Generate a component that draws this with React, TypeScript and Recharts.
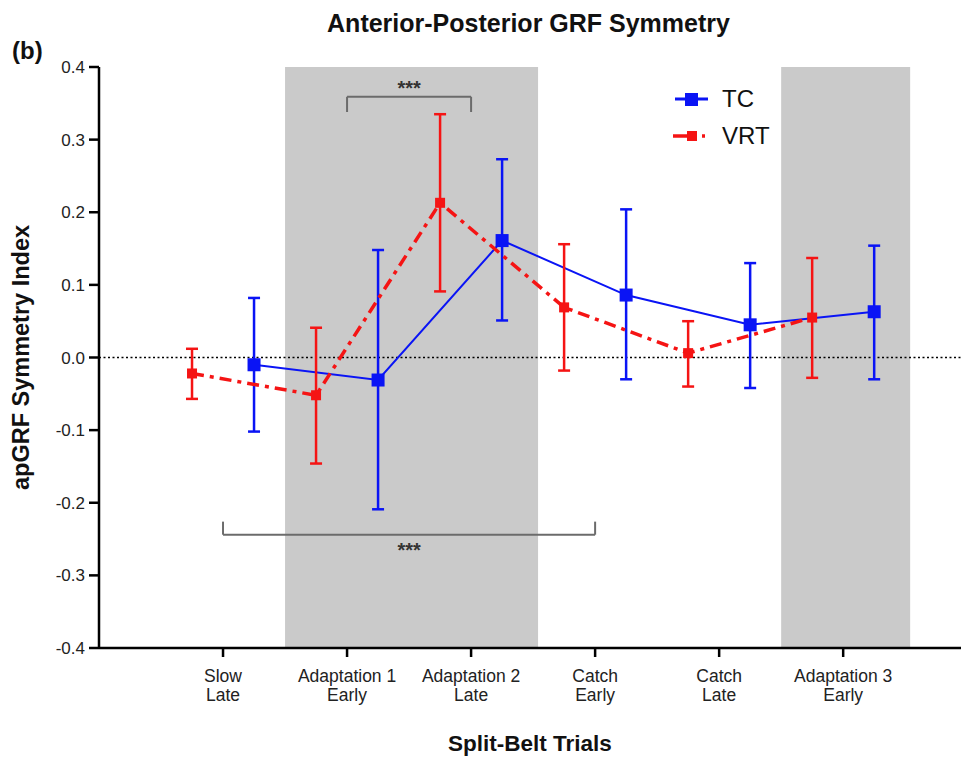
import React from "react";
import { LineChart, Line, XAxis, YAxis, ErrorBar, ReferenceArea, ReferenceLine } from "recharts";

// split-belt trial categories (two-line tick labels)
const trialTop = ["Slow", "Adaptation 1", "Adaptation 2", "Catch", "Catch", "Adaptation 3"];
const trialBottom = ["Late", "Early", "Late", "Early", "Late", "Early"];

// TC group: mean and error bar ends
const tcMean = [-0.010, -0.031, 0.161, 0.086, 0.045, 0.063];
const tcLow = [-0.102, -0.209, 0.051, -0.030, -0.042, -0.030];
const tcHigh = [0.082, 0.148, 0.273, 0.204, 0.130, 0.154];

// VRT group
const vrtMean = [-0.022, -0.052, 0.213, 0.069, 0.006, 0.055];
const vrtLow = [-0.057, -0.146, 0.091, -0.018, -0.040, -0.028];
const vrtHigh = [0.012, 0.041, 0.335, 0.156, 0.050, 0.137];

const yTicks = [-0.4, -0.3, -0.2, -0.1, 0, 0.1, 0.2, 0.3, 0.4];
const shaded = [[0.5, 2.54], [4.5, 5.54]];

const FONT = "'Liberation Sans', Arial, sans-serif";
const BLUE = "#0a14f5";
const RED = "#f51414";
const BRACKET = "#6b6b6b";

const build = (mean: number[], low: number[], high: number[], shift: number) =>
  mean.map((m, i) => ({ x: i + shift, y: m, err: [m - low[i], high[i] - m] }));

const tcData = build(tcMean, tcLow, tcHigh, 0.25);
const vrtData = build(vrtMean, vrtLow, vrtHigh, -0.25);

const square = (size: number, color: string) => (props: any) => {
  const { cx, cy, index } = props;
  if (cx == null || cy == null) return <g key={index} />;
  return <rect key={index} x={cx - size / 2} y={cy - size / 2} width={size} height={size} fill={color} />;
};

const TrialTick = (props: any) => {
  const { x, y, payload } = props;
  const i = payload.value;
  return (
    <g transform={`translate(${x},${y})`}>
      <text textAnchor="middle" fontFamily={FONT} fontSize={17.5} fill="#222">
        <tspan x={0} dy={23}>{trialTop[i]}</tspan>
        <tspan x={0} dy={19}>{trialBottom[i]}</tspan>
      </text>
    </g>
  );
};

const YTick = (props: any) => {
  const { x, y, payload } = props;
  return (
    <text x={x - 2} y={y + 6} textAnchor="end" fontFamily={FONT} fontSize={17} fill="#222">
      {payload.value.toFixed(1)}
    </text>
  );
};

export default function App() {
  return (
    <div style={{ position: "absolute", left: 0, top: 0, width: 961, height: 757, background: "#fff", fontFamily: FONT }}>
      <div style={{ position: "absolute", top: 9, left: 0, width: 1057, textAlign: "center", fontSize: 25, fontWeight: 700, color: "#111" }}>
        Anterior-Posterior GRF Symmetry
      </div>
      <div style={{ position: "absolute", top: 37, left: 12, fontSize: 24, fontWeight: 700, color: "#111" }}>(b)</div>

      <LineChart width={961} height={757} margin={{ top: 67, right: 0, bottom: 0, left: 39 }}>
        {shaded.map(([a, b], k) => (
          <ReferenceArea key={k} x1={a} x2={b} y1={-0.4} y2={0.4} fill="#cacaca" fillOpacity={1} stroke="none" />
        ))}
        <XAxis
          type="number"
          dataKey="x"
          domain={[-1, 5.95]}
          ticks={[0, 1, 2, 3, 4, 5]}
          tick={<TrialTick />}
          tickSize={9}
          height={109}
          stroke="#000"
          strokeWidth={2.5}
          allowDataOverflow
          label={{ value: "Split-Belt Trials", position: "insideBottom", offset: 6, fontFamily: FONT, fontSize: 22.5, fontWeight: 700, fill: "#111" }}
        />
        <YAxis
          type="number"
          domain={[-0.4, 0.4]}
          ticks={yTicks}
          tick={<YTick />}
          tickSize={10}
          width={60}
          stroke="#000"
          strokeWidth={2.5}
          allowDataOverflow
          label={{ value: "apGRF Symmetry Index", angle: -90, position: "insideLeft", offset: -18, dy: 0, fontFamily: FONT, fontSize: 23.5, fontWeight: 700, fill: "#111", style: { textAnchor: "middle" } }}
        />
        <ReferenceLine y={0} stroke="#000" strokeWidth={1.5} strokeDasharray="2 2.5" />

        {/* significance brackets */}
        <ReferenceLine segment={[{ x: 1, y: 0.359 }, { x: 2, y: 0.359 }]} stroke={BRACKET} strokeWidth={2}
          label={{ value: "***", position: "top", offset: 2, fontFamily: FONT, fontSize: 20, fontWeight: 700, fill: "#333" }} />
        <ReferenceLine segment={[{ x: 1, y: 0.359 }, { x: 1, y: 0.338 }]} stroke={BRACKET} strokeWidth={2} />
        <ReferenceLine segment={[{ x: 2, y: 0.359 }, { x: 2, y: 0.338 }]} stroke={BRACKET} strokeWidth={2} />
        <ReferenceLine segment={[{ x: 0, y: -0.244 }, { x: 3, y: -0.244 }]} stroke={BRACKET} strokeWidth={2}
          label={{ value: "***", position: "bottom", offset: 8, fontFamily: FONT, fontSize: 20, fontWeight: 700, fill: "#333" }} />
        <ReferenceLine segment={[{ x: 0, y: -0.244 }, { x: 0, y: -0.226 }]} stroke={BRACKET} strokeWidth={2} />
        <ReferenceLine segment={[{ x: 3, y: -0.244 }, { x: 3, y: -0.226 }]} stroke={BRACKET} strokeWidth={2} />

        <Line data={tcData} dataKey="y" stroke={BLUE} strokeWidth={2} dot={square(13, BLUE)} activeDot={false} isAnimationActive={false}>
          <ErrorBar dataKey="err" direction="y" width={6} stroke={BLUE} strokeWidth={2.5} />
        </Line>
        <Line data={vrtData} dataKey="y" stroke={RED} strokeWidth={3.5} strokeDasharray="12 6 4 6" dot={square(10, RED)} activeDot={false} isAnimationActive={false}>
          <ErrorBar dataKey="err" direction="y" width={6} stroke={RED} strokeWidth={2.5} />
        </Line>
      </LineChart>

      {/* legend */}
      <div style={{ position: "absolute", left: 672, top: 80, lineHeight: "37px", fontSize: 24, color: "#111" }}>
        <div style={{ display: "flex", alignItems: "center" }}>
          <svg width={40} height={20}>
            <line x1={3} y1={10} x2={36} y2={10} stroke={BLUE} strokeWidth={3} />
            <rect x={13} y={4} width={13} height={13} fill={BLUE} />
          </svg>
          <span style={{ marginLeft: 10 }}>TC</span>
        </div>
        <div style={{ display: "flex", alignItems: "center" }}>
          <svg width={40} height={20}>
            <line x1={1} y1={10} x2={36} y2={10} stroke={RED} strokeWidth={3.5} strokeDasharray="24 5 3 5" />
            <rect x={15} y={5} width={10} height={10} fill={RED} />
          </svg>
          <span style={{ marginLeft: 10 }}>VRT</span>
        </div>
      </div>
    </div>
  );
}
